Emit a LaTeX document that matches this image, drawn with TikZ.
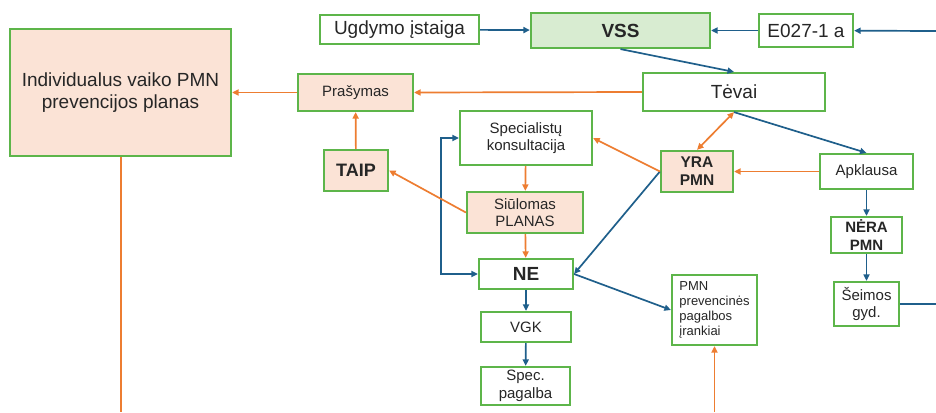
\documentclass[tikz,border=0pt]{standalone}
\usepackage{fontspec}
\setmainfont{Liberation Sans}
\usetikzlibrary{arrows.meta}

\definecolor{boxgreen}{HTML}{5DB54A}
\definecolor{peach}{HTML}{FBE3D6}
\definecolor{mint}{HTML}{D8ECD1}
\definecolor{flowblue}{HTML}{1F5F8B}
\definecolor{floworange}{HTML}{ED7D31}
\definecolor{ink}{HTML}{262626}

\begin{document}
\begin{tikzpicture}[x=1pt,y=-1pt,
  >={Triangle[length=6.5pt,width=6pt]},
  box/.style={draw=boxgreen,line width=2.2pt,fill=white,text=ink,align=center,inner sep=2pt},
  warm/.style={box,fill=peach},
  big/.style={font=\fontsize{19}{22}\selectfont},
  mid/.style={font=\fontsize{15}{17.5}\selectfont},
  small/.style={font=\fontsize{13}{15}\selectfont},
  bluearrow/.style={draw=flowblue,line width=1.7pt,->},
  orangearrow/.style={draw=floworange,line width=1.7pt,->},
  blueline/.style={draw=flowblue,line width=1.7pt},
  orangeline/.style={draw=floworange,line width=2pt}]

\useasboundingbox (0,0) rectangle (936,412);

% boxes
\node[warm,big,minimum width=221pt,minimum height=127pt] (plan) at (120.5,92.5)
  {Individualus vaiko PMN\\prevencijos planas};
\node[box,big,minimum width=159pt,minimum height=29pt] (ugd) at (399.5,29.5) {Ugdymo įstaiga};
\node[box,fill=mint,font=\fontsize{19}{22}\selectfont\bfseries,minimum width=179pt,minimum height=35pt] (vss) at (620.5,30.5) {VSS};
\node[box,big,minimum width=94pt,minimum height=33pt] (e027) at (806,30.5) {E027-1 a};
\node[warm,mid,minimum width=115pt,minimum height=37pt] (pras) at (355.5,92.5) {Prašymas};
\node[box,big,minimum width=182pt,minimum height=38pt] (tevai) at (734,92) {Tėvai};
\node[box,mid,minimum width=132pt,minimum height=54pt] (spec) at (526,138) {Specialistų\\konsultacija};
\node[warm,font=\fontsize{18}{21}\selectfont\bfseries,minimum width=64pt,minimum height=41pt] (taip) at (356,170.5) {TAIP};
\node[warm,font=\fontsize{15.5}{18}\selectfont\bfseries,minimum width=72pt,minimum height=41pt] (yra) at (697,171.5) {YRA\\PMN};
\node[box,mid,minimum width=93pt,minimum height=35pt] (apk) at (866.5,171.5) {Apklausa};
\node[warm,mid,minimum width=116pt,minimum height=41pt] (siul) at (525,212.5) {Siūlomas\\PLANAS};
\node[box,font=\fontsize{15}{18}\selectfont\bfseries,minimum width=71pt,minimum height=36pt] (nera) at (866.5,235) {NĖRA\\PMN};
\node[box,font=\fontsize{19}{22}\selectfont\bfseries,minimum width=94pt,minimum height=30pt] (ne) at (526,274) {NE};
\node[box,small,align=left,minimum width=85pt,minimum height=70pt] (pmnp) at (714.5,310)
  {PMN\\prevencinės\\pagalbos\\įrankiai};
\node[box,mid,minimum width=65pt,minimum height=44pt] (seim) at (866.5,304) {Šeimos\\gyd.};
\node[box,mid,minimum width=90pt,minimum height=30pt] (vgk) at (526,327) {VGK};
\node[box,mid,minimum width=89pt,minimum height=38pt] (specp) at (525.5,386) {Spec.\\pagalba};

% free ends at the picture's edges
\coordinate (inE) at (936,31);
\coordinate (outS) at (936,304);
\coordinate (planEnd) at (120.5,412);
\coordinate (toolsIn) at (714.5,412);

% blue flow
\draw[bluearrow] (inE) -- (e027);
\draw[bluearrow] (e027) -- (vss);
\draw[bluearrow] (ugd) -- (vss);
\draw[bluearrow] (vss.south) -- (tevai.north);
\draw[bluearrow] (tevai.south) -- (apk.north);
\draw[bluearrow] (apk) -- (nera);
\draw[bluearrow] (nera) -- (seim);
\draw[blueline] (seim.east) -- (outS);
\draw[bluearrow] (yra.west) -- (ne.east);
\draw[bluearrow] (ne.east) -- (pmnp.west);
\draw[bluearrow] (ne) -- (vgk);
\draw[bluearrow] (vgk) -- (specp);
\draw[bluearrow,<->] (spec.west) -- ++(-18,0) |- (ne.west);

% orange flow
\draw[orangearrow] (tevai.west) -- (pras.east);
\draw[orangearrow] (pras) -- (plan);
\draw[orangearrow] (taip) -- (pras);
\draw[orangearrow] (siul.west) -- (taip.east);
\draw[orangearrow,<->] (tevai.south) -- (yra.north);
\draw[orangearrow] (apk) -- (yra);
\draw[orangearrow] (yra.west) -- (spec.east);
\draw[orangearrow] (spec) -- (siul);
\draw[orangearrow] (siul) -- (ne);
\draw[orangearrow] (toolsIn) -- (pmnp);
\draw[orangeline] (plan.south) -- (planEnd);

\end{tikzpicture}
\end{document}
